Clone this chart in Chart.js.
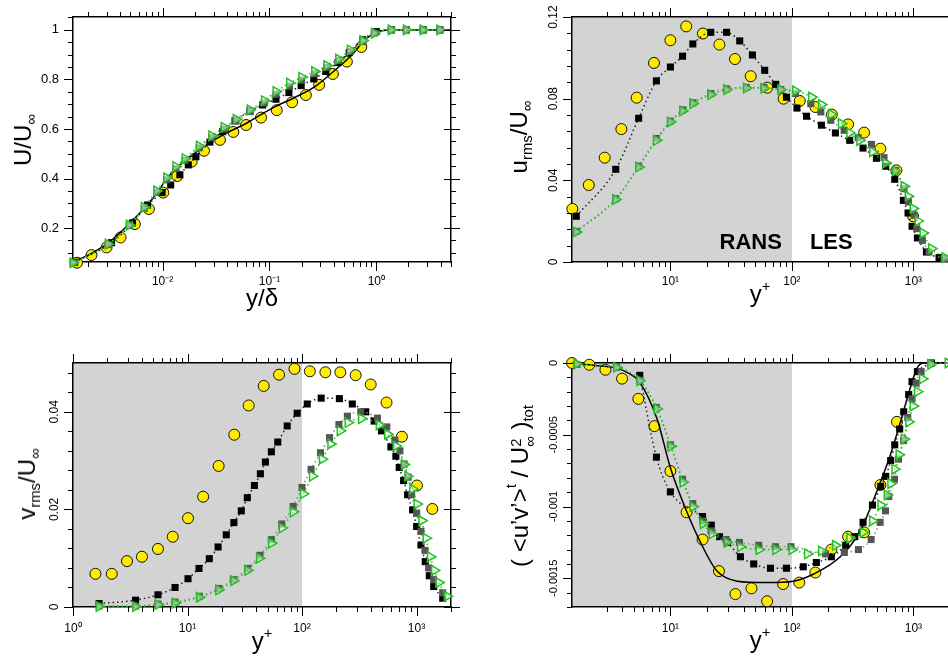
<!DOCTYPE html>
<html>
<head>
<meta charset="utf-8">
<title>Boundary layer profiles</title>
<script src="https://cdn.jsdelivr.net/npm/chart.js@4.4.1/dist/chart.umd.min.js"></script>
<style>
  html, body { margin: 0; padding: 0; background: #fff; }
  body { position: relative; width: 948px; height: 660px; overflow: hidden; }
  canvas { position: absolute; }
  .t { position: absolute; font: 24px "Liberation Sans", Arial, sans-serif; line-height: 1; white-space: nowrap; transform: translate(-50%, -50%); color: #000; }
  .t.r { transform: translate(-50%, -50%) rotate(-90deg); }
  .t sub, .t sup { font-size: 62%; line-height: 0; }
  .t sub { vertical-align: -0.35em; }
  .t sup { vertical-align: 0.75em; }
  .stk { display: inline-block; font-size: 62%; line-height: 0.95; vertical-align: -0.45em; }
  .stk span { display: block; }
</style>
</head>
<body>
<canvas id="c1" width="474" height="330" style="left:0;top:0"></canvas>
<canvas id="c2" width="490" height="330" style="left:474px;top:0"></canvas>
<canvas id="c3" width="474" height="330" style="left:0;top:330px"></canvas>
<canvas id="c4" width="490" height="330" style="left:474px;top:330px"></canvas>

<div class="t r" style="left:23px;top:140px">U/U<sub>∞</sub></div>
<div class="t" style="left:262px;top:298px">y/δ</div>
<div class="t r" style="left:519px;top:137px">u<sub>rms</sub>/U<sub>∞</sub></div>
<div class="t" style="left:760px;top:294px">y<sup>+</sup></div>
<div class="t r" style="left:27px;top:484px">v<sub>rms</sub>/U<sub>∞</sub></div>
<div class="t" style="left:262px;top:641px">y<sup>+</sup></div>
<div class="t r" style="left:522px;top:486px">( &lt;u’v’&gt;<sup>t</sup> / U<span class="stk"><span>2</span><span>∞</span></span> )<sub>tot</sub></div>
<div class="t" style="left:760px;top:640px">y<sup>+</sup></div>

<script>
// ---------- axis ticks ----------
const P1_X_MAJOR = [0.01, 0.1, 1];
const P1_X_LABELS = ["10⁻²", "10⁻¹", "10⁰"];
const P1_Y_MAJOR = [0.2, 0.4, 0.6, 0.8, 1];
const P1_Y_LABELS = ["0.2", "0.4", "0.6", "0.8", "1"];

const YP_MAJOR = [10, 100, 1000];
const YP_LABELS = ["10¹", "10²", "10³"];
const P3_X_MAJOR = [1, 10, 100, 1000];
const P3_X_LABELS = ["10⁰", "10¹", "10²", "10³"];

const P2_Y_MAJOR = [0, 0.04, 0.08, 0.12];
const P2_Y_LABELS = ["0", "0.04", "0.08", "0.12"];
const P3_Y_MAJOR = [0, 0.02, 0.04];
const P3_Y_LABELS = ["0", "0.02", "0.04"];
const P4_Y_MAJOR = [0, -0.0005, -0.001, -0.0015];
const P4_Y_LABELS = ["0", "-0.0005", "-0.001", "-0.0015"];

const RANS_LIMIT = 100;

// ---------- panel 1 : U/Uinf vs y/delta ----------
const P1_YEL_X = [0.00158, 0.00216, 0.00299, 0.00404, 0.0055, 0.00744, 0.01014, 0.0137, 0.0187, 0.0244, 0.0344, 0.0459, 0.0604, 0.0834, 0.117, 0.163, 0.219, 0.292, 0.392, 0.53, 0.723];
const P1_YEL_Y = [0.06, 0.091, 0.122, 0.162, 0.216, 0.277, 0.343, 0.41, 0.468, 0.512, 0.556, 0.588, 0.616, 0.646, 0.676, 0.708, 0.737, 0.778, 0.822, 0.872, 0.931];
const P1_BLK_X = [0.0015, 0.00333, 0.00523, 0.00723, 0.0099, 0.0119, 0.0145, 0.0174, 0.0205, 0.0277, 0.0365, 0.0476, 0.0658, 0.0865, 0.115, 0.152, 0.198, 0.26, 0.337, 0.437, 0.557, 0.748, 1.0, 1.38, 1.91, 2.74, 3.93];
const P1_BLK_Y = [0.062, 0.141, 0.221, 0.293, 0.343, 0.374, 0.415, 0.455, 0.488, 0.547, 0.589, 0.633, 0.673, 0.697, 0.72, 0.747, 0.775, 0.802, 0.832, 0.868, 0.908, 0.96, 0.993, 1, 1, 1, 1];
const P1_GRN_X = [0.00145, 0.00309, 0.00487, 0.00673, 0.0088, 0.0109, 0.0133, 0.0162, 0.022, 0.0288, 0.0376, 0.0487, 0.0658, 0.0895, 0.115, 0.154, 0.2, 0.264, 0.344, 0.443, 0.57, 0.748, 0.957, 1.38, 1.91, 2.74, 3.93];
const P1_GRN_Y = [0.06, 0.135, 0.212, 0.284, 0.35, 0.403, 0.448, 0.48, 0.531, 0.572, 0.607, 0.639, 0.677, 0.714, 0.751, 0.785, 0.809, 0.832, 0.856, 0.882, 0.919, 0.957, 0.987, 1, 1, 1, 1];
const P1_GRY_Y = [0.06, 0.133, 0.21, 0.28, 0.345, 0.395, 0.44, 0.473, 0.524, 0.565, 0.6, 0.632, 0.67, 0.705, 0.74, 0.772, 0.797, 0.823, 0.848, 0.876, 0.913, 0.953, 0.987, 1, 1, 1, 1];
const P1_SOL_X = [0.00145, 0.00214, 0.00307, 0.00425, 0.00587, 0.00811, 0.01045, 0.0125, 0.0173, 0.0256, 0.0394, 0.0608, 0.0871, 0.113, 0.174, 0.267, 0.412, 0.59, 0.787, 0.977, 1.3, 5];
const P1_SOL_Y = [0.063, 0.097, 0.138, 0.192, 0.253, 0.32, 0.387, 0.428, 0.482, 0.535, 0.583, 0.623, 0.663, 0.69, 0.728, 0.771, 0.838, 0.899, 0.96, 0.989, 1, 1];

// ---------- panel 2 : u_rms ----------
const P2_YEL_X = [1.56, 2.13, 2.88, 3.95, 5.28, 7.33, 10, 13.5, 18.5, 25.3, 34, 45.8, 62.8, 85.5, 116, 156, 213, 290, 393, 535, 724, 993];
const P2_YEL_Y = [0.026, 0.0377, 0.0511, 0.0651, 0.0805, 0.0975, 0.1086, 0.1154, 0.1119, 0.1065, 0.0994, 0.091, 0.0854, 0.08, 0.0789, 0.0759, 0.0722, 0.0674, 0.0634, 0.0555, 0.0449, 0.0224];
const P2_BLK_X = [1.68, 3.55, 5.48, 7.67, 10, 12.6, 15.3, 21.5, 29, 37.2, 47.3, 59.7, 73.6, 90.2, 110, 132, 175, 228, 299, 385, 496, 592, 702, 827, 903, 975, 1079, 1280, 1625];
const P2_BLK_Y = [0.0224, 0.0454, 0.0704, 0.0887, 0.0955, 0.1008, 0.1068, 0.1125, 0.1125, 0.1083, 0.1014, 0.0939, 0.087, 0.0807, 0.0754, 0.0714, 0.067, 0.0632, 0.0596, 0.0558, 0.0508, 0.0469, 0.0405, 0.0302, 0.024, 0.0175, 0.0118, 0.0049, 0.0022];
const P2_GRN_X = [1.68, 3.55, 5.48, 7.67, 10, 12.6, 15.3, 21.5, 29, 42.2, 58.9, 80.9, 107, 145, 175, 211, 255, 299, 361, 460, 592, 711, 837, 903, 993, 1091, 1200, 1406, 1811];
const P2_GRN_Y = [0.0147, 0.0306, 0.0465, 0.0596, 0.0686, 0.074, 0.0776, 0.082, 0.0844, 0.0852, 0.0851, 0.0844, 0.0838, 0.0808, 0.0771, 0.0723, 0.0678, 0.0632, 0.0596, 0.0539, 0.0485, 0.0446, 0.0371, 0.0322, 0.0262, 0.0201, 0.0142, 0.0066, 0.0022];
const P2_GRY_X = [1.68, 3.55, 5.48, 7.67, 10, 12.6, 15.3, 21.5, 29, 42.2, 58.9, 80.9, 107, 143, 173, 209, 269, 351, 452, 573, 714, 837, 910, 1012, 1065, 1185, 1343, 1787];
const P2_GRY_Y = [0.015, 0.031, 0.047, 0.0605, 0.069, 0.0745, 0.078, 0.0825, 0.0848, 0.0855, 0.0855, 0.0845, 0.0825, 0.0776, 0.0735, 0.0694, 0.0645, 0.0609, 0.0576, 0.0511, 0.0449, 0.0359, 0.0294, 0.0229, 0.0163, 0.0106, 0.0049, 0.0017];

// ---------- panel 3 : v_rms ----------
const P3_YEL_X = [1.57, 2.18, 2.96, 4.0, 5.52, 7.43, 10.1, 13.7, 18.7, 25.6, 34.2, 46.3, 63, 85.9, 117, 160, 216, 294, 398, 547, 745, 1008, 1374];
const P3_YEL_Y = [0.0068, 0.0068, 0.0094, 0.0103, 0.0119, 0.0144, 0.0182, 0.0226, 0.0289, 0.0353, 0.0413, 0.0453, 0.0476, 0.0488, 0.0483, 0.0481, 0.0481, 0.0475, 0.0456, 0.0419, 0.0349, 0.0249, 0.0201];
const P3_BLK_X = [1.69, 3.52, 5.52, 7.78, 10.1, 12.6, 15.5, 18.5, 21.8, 25.4, 29.5, 33.3, 38.4, 43.3, 47.9, 54, 61.4, 74.2, 90.7, 111, 147, 212, 275, 360, 426, 494, 597, 660, 706, 771, 836, 924, 1002, 1093, 1192, 1292, 1412, 1693];
const P3_BLK_Y = [0.0007, 0.0014, 0.0025, 0.004, 0.0058, 0.0079, 0.0099, 0.0123, 0.0148, 0.0173, 0.0197, 0.0224, 0.0249, 0.0273, 0.0297, 0.0318, 0.0338, 0.0371, 0.0397, 0.0416, 0.0428, 0.0427, 0.0416, 0.04, 0.0381, 0.0361, 0.0328, 0.0309, 0.0286, 0.0259, 0.023, 0.0199, 0.0165, 0.0127, 0.0093, 0.0064, 0.0042, 0.0018];
const P3_GRN_X = [1.69, 3.52, 5.52, 7.78, 12.7, 18.7, 25.3, 33.5, 42.4, 54, 67, 83.7, 102.5, 123, 150, 178, 215, 252, 330, 471, 558, 660, 780, 836, 924, 1008, 1109, 1210, 1318, 1430, 1563, 1849];
const P3_GRN_Y = [0.0001, 0.0001, 0.0005, 0.0008, 0.002, 0.0035, 0.0054, 0.0075, 0.01, 0.0131, 0.0162, 0.0195, 0.0232, 0.0268, 0.0303, 0.0334, 0.0361, 0.0378, 0.0386, 0.0373, 0.0354, 0.033, 0.0292, 0.0268, 0.0242, 0.0211, 0.0177, 0.0141, 0.0103, 0.0075, 0.005, 0.0022];
const P3_GRY_X = [1.69, 3.52, 5.52, 7.78, 12.7, 18.7, 25.1, 33.4, 42.9, 54, 66.5, 83.7, 100, 120, 145, 174, 210, 249, 326, 456, 550, 647, 716, 780, 846, 906, 1002, 1093, 1186, 1276, 1412, 1693];
const P3_GRY_Y = [0.0002, 0.0002, 0.0006, 0.001, 0.0022, 0.0038, 0.0056, 0.0079, 0.0106, 0.0138, 0.017, 0.0206, 0.0245, 0.0282, 0.0316, 0.0347, 0.0374, 0.0391, 0.04, 0.0387, 0.0369, 0.0342, 0.032, 0.0293, 0.0266, 0.023, 0.0192, 0.0155, 0.0116, 0.008, 0.0056, 0.0029];

// ---------- panel 4 : total shear stress ----------
const P4_YEL_X = [1.55, 2.15, 2.92, 4.0, 5.45, 7.38, 10, 13.6, 18.4, 25.1, 34.3, 46.5, 62.5, 84.6, 115, 156, 211, 290, 393, 535, 732];
const P4_YEL_Y = [0, -0.000012, -0.000047, -0.000109, -0.00025, -0.00044, -0.000753, -0.00104, -0.00123, -0.00145, -0.00161, -0.00157, -0.00166, -0.00154, -0.00153, -0.00146, -0.0013, -0.00121, -0.00118, -0.00085, -0.00041];
const P4_BLK_X = [5.6, 7.67, 10, 18.4, 21.7, 25.4, 29.4, 37.7, 48.5, 66.6, 90.2, 124, 159, 211, 277, 329, 385, 460, 538, 592, 650, 702, 771, 832, 914, 973, 1079, 1406];
const P4_BLK_Y = [-0.000086, -0.000656, -0.000898, -0.00107, -0.00113, -0.00121, -0.00125, -0.00135, -0.0014, -0.00143, -0.00143, -0.00142, -0.00139, -0.00135, -0.00127, -0.00121, -0.00111, -0.00099, -0.00086, -0.00079, -0.00068, -0.00057, -0.00046, -0.00034, -0.00022, -0.00013, -0.00006, 0];
const P4_GRN_X = [1.7, 3.6, 5.6, 7.76, 10.1, 12.7, 15.3, 18.6, 22, 29.2, 37.7, 53.6, 73.6, 100, 134, 175, 228, 299, 385, 460, 538, 607, 650, 702, 760, 837, 914, 993, 1079, 1186, 1387, 1927];
const P4_GRN_Y = [-0.000007, -0.00003, -0.000123, -0.00032, -0.00058, -0.00083, -0.001, -0.00112, -0.00119, -0.00125, -0.00128, -0.0013, -0.0013, -0.0013, -0.00133, -0.00131, -0.00127, -0.00122, -0.00118, -0.0011, -0.00099, -0.00092, -0.00084, -0.00074, -0.00064, -0.00053, -0.00041, -0.0003, -0.0002, -0.00011, -0.00001, 0];
const P4_GRY_X = [1.7, 3.6, 5.6, 7.67, 10, 12.6, 15.3, 18.5, 21.6, 28.7, 37, 53.3, 73.1, 98.4, 189, 270, 353, 449, 532, 589, 627, 698, 753, 830, 898, 975, 1052, 1157, 1380];
const P4_GRY_Y = [-0.00001, -0.00003, -0.00012, -0.00031, -0.00057, -0.00081, -0.00098, -0.0011, -0.00117, -0.00123, -0.00125, -0.00127, -0.00128, -0.00128, -0.00133, -0.00132, -0.0013, -0.00123, -0.00111, -0.00103, -0.00093, -0.00081, -0.00067, -0.00054, -0.00038, -0.00025, -0.00014, -0.00006, 0];
const P4_SOL_X = [1.55, 2, 3, 3.63, 4.5, 5.52, 7.77, 10, 13.7, 17.7, 24.2, 35.5, 62.4, 103, 151, 250, 366, 502, 647, 782, 944, 1072, 1217, 2000];
const P4_SOL_Y = [0, -0.00001, -0.000025, -0.000035, -0.00007, -0.000128, -0.00039, -0.00073, -0.00104, -0.00125, -0.00145, -0.00152, -0.00153, -0.00152, -0.00147, -0.00135, -0.00117, -0.00089, -0.00064, -0.00041, -0.00017, -0.000035, 0, 0];

// ---------- styles ----------
const YELLOW = "#ffea00";
const GREEN = "#1fc21f";
const GRAY = "#555555";
const TICK = 9;
const MINOR = 5;
const FONT = '"Liberation Sans", Arial, sans-serif';

Chart.defaults.font.family = FONT;
Chart.defaults.color = "#000";

const pts = (xs, ys) => xs.map((x, i) => ({ x, y: ys[i] }));

const circles = (xs, ys) => ({
  data: pts(xs, ys), showLine: false, clip: false,
  pointStyle: "circle", pointRadius: 5.5,
  pointBackgroundColor: YELLOW, pointBorderColor: "#111", pointBorderWidth: 1,
});
const squares = (xs, ys, fill, line) => ({
  data: pts(xs, ys), showLine: true, clip: false,
  borderColor: line, borderWidth: 1.5, borderDash: [1.5, 3],
  cubicInterpolationMode: "monotone",
  pointStyle: "rect", pointRadius: 5,
  pointBackgroundColor: fill, pointBorderColor: fill, pointBorderWidth: 0,
});
const triangles = (xs, ys) => ({
  data: pts(xs, ys), showLine: true, clip: false,
  borderColor: GREEN, borderWidth: 1.5, borderDash: [1.5, 3],
  cubicInterpolationMode: "monotone",
  pointStyle: "triangle", pointRotation: 90, pointRadius: 5.5,
  pointBackgroundColor: "rgba(255,255,255,0.5)", pointBorderColor: GREEN, pointBorderWidth: 1.5,
});
const solid = (xs, ys) => ({
  data: pts(xs, ys), showLine: true, clip: false,
  borderColor: "#000", borderWidth: 1.5,
  cubicInterpolationMode: "monotone", pointRadius: 0,
});

// keep only 1..9 x 10^n ticks on log axes
const wholeSignificands = (axis) => {
  axis.ticks = axis.ticks.filter((t) => {
    const m = t.value / Math.pow(10, Math.floor(Math.log10(t.value) + 1e-9));
    return Math.abs(m - Math.round(m)) < 1e-6;
  });
};

function makePanel(id, p) {
  const cv = document.getElementById(id);
  const W = cv.width, H = cv.height;
  const near = (a, b) => Math.abs(a - b) <= Math.max(Math.abs(b), 1e-6) * 1e-6;
  const isXMajor = (v) => p.xMajor.some((m) => near(v, m));
  const isYMajor = (v) => p.yMajor.some((m) => Math.abs(v - m) < 1e-9);
  const xLabel = (v) => { const i = p.xMajor.findIndex((m) => near(v, m)); return i < 0 ? "" : p.xLabels[i]; };
  const yLabel = (v) => { const i = p.yMajor.findIndex((m) => Math.abs(v - m) < 1e-9); return i < 0 ? "" : p.yLabels[i]; };

  // tick marks are drawn by the overlay; the library only keeps room for them
  const grid = { drawOnChartArea: false, drawTicks: true, tickLength: TICK, tickColor: "rgba(0,0,0,0)" };
  const border = { display: true, color: "#000", width: 1.5 };
  const xBase = { type: "logarithmic", min: p.xMin, max: p.xMax, afterBuildTicks: wholeSignificands, border, grid };
  const yBase = { type: "linear", min: p.yMin, max: p.yMax, border, grid };
  const yTicks = { stepSize: p.yStep, includeBounds: false, maxTicksLimit: 1000, autoSkip: false };

  const overlay = {
    id: "overlay",
    beforeDraw(chart) {
      if (!p.shade) return;
      const a = chart.chartArea, c = chart.ctx;
      const xr = chart.scales.x.getPixelForValue(RANS_LIMIT);
      c.save();
      c.fillStyle = "#d3d3d3";
      c.fillRect(a.left, a.top, xr - a.left, a.bottom - a.top);
      c.restore();
    },
    beforeDatasetsDraw(chart) {
      if (!p.zones) return;
      const a = chart.chartArea, c = chart.ctx;
      const xr = chart.scales.x.getPixelForValue(RANS_LIMIT);
      c.save();
      c.fillStyle = "#000";
      c.font = "bold 22px " + FONT;
      c.textBaseline = "alphabetic";
      c.textAlign = "right";
      c.fillText(p.zones[0], xr - 10, a.bottom - 13);
      c.textAlign = "left";
      c.fillText(p.zones[1], xr + 18, a.bottom - 13);
      c.restore();
    },
    afterDraw(chart) {
      const a = chart.chartArea, c = chart.ctx;
      // tick marks on all four sides
      c.save();
      c.strokeStyle = "#000";
      c.lineWidth = 1;
      const sides = [["x", "bottom", isXMajor], ["x2", "top", isXMajor], ["y", "left", isYMajor], ["y2", "right", isYMajor]];
      sides.forEach(([sid, side, isMajor]) => {
        const s = chart.scales[sid];
        s.ticks.forEach((t) => {
          const major = isMajor(t.value);
          const len = major ? TICK : MINOR;
          const q = Math.round(s.getPixelForValue(t.value)) + 0.5;
          c.beginPath();
          if (side === "bottom") { c.moveTo(q, a.bottom); c.lineTo(q, a.bottom + len); }
          else if (side === "top") { c.moveTo(q, a.top); c.lineTo(q, a.top - len); }
          else if (side === "left") { c.moveTo(a.left, q); c.lineTo(a.left - len, q); }
          else { c.moveTo(a.right - (major ? p.rightIn : 0), q); c.lineTo(a.right + len, q); }
          c.stroke();
        });
      });
      c.restore();

      if (p.flatY) return;
      const s = chart.scales.y;
      c.save();
      c.fillStyle = "#000";
      c.font = p.yFont + "px " + FONT;
      c.textAlign = "center";
      c.textBaseline = "alphabetic";
      p.yMajor.forEach((v, i) => {
        c.save();
        c.translate(s.right - 15, s.getPixelForValue(v));
        c.rotate(-Math.PI / 2);
        c.fillText(p.yLabels[i], 0, 0);
        c.restore();
      });
      c.restore();
    },
  };

  return new Chart(cv, {
    type: "scatter",
    data: { datasets: p.datasets },
    options: {
      responsive: false,
      animation: false,
      events: [],
      layout: { padding: 0 },
      plugins: { legend: { display: false }, tooltip: { enabled: false } },
      scales: {
        x: {
          ...xBase, position: "bottom",
          ticks: { autoSkip: false, maxRotation: 0, minRotation: 0, padding: p.xPad, font: { size: 12 }, callback: xLabel },
          afterFit: (s) => { s.height = H - p.box.b; },
        },
        x2: {
          ...xBase, position: "top",
          ticks: { display: false, autoSkip: false },
          afterFit: (s) => { s.height = p.box.t; },
        },
        y: {
          ...yBase, position: "left",
          ticks: { ...yTicks, display: !!p.flatY, padding: 5, font: { size: 13 }, callback: yLabel },
          afterFit: (s) => { s.width = p.box.l; },
        },
        y2: {
          ...yBase, position: "right",
          ticks: { ...yTicks, display: false },
          afterFit: (s) => { s.width = W - p.box.r; },
        },
      },
    },
    plugins: [overlay],
  });
}

makePanel("c1", {
  box: { l: 73, t: 17, r: 451, b: 262 }, rightIn: 7,
  xMin: 0.00145, xMax: 5, xMajor: P1_X_MAJOR, xLabels: P1_X_LABELS, xPad: 3,
  yMin: 0.063, yMax: 1.052, yStep: 0.05, yMajor: P1_Y_MAJOR, yLabels: P1_Y_LABELS, flatY: true,
  datasets: [
    triangles(P1_GRN_X, P1_GRN_Y),
    squares(P1_GRN_X, P1_GRY_Y, GRAY, "#8a8a8a"),
    squares(P1_BLK_X, P1_BLK_Y, "#000", "#222"),
    solid(P1_SOL_X, P1_SOL_Y),
    circles(P1_YEL_X, P1_YEL_Y),
  ],
});

makePanel("c2", {
  box: { l: 98, t: 17, r: 476, b: 262 }, rightIn: 0,
  xMin: 1.55, xMax: 2000, xMajor: YP_MAJOR, xLabels: YP_LABELS, xPad: 3,
  yMin: 0, yMax: 0.12, yStep: 0.008, yMajor: P2_Y_MAJOR, yLabels: P2_Y_LABELS, yFont: 12,
  shade: true, zones: ["RANS", "LES"],
  datasets: [
    triangles(P2_GRN_X, P2_GRN_Y),
    squares(P2_GRY_X, P2_GRY_Y, GRAY, "#8a8a8a"),
    squares(P2_BLK_X, P2_BLK_Y, "#000", "#222"),
    circles(P2_YEL_X, P2_YEL_Y),
  ],
});

makePanel("c3", {
  box: { l: 73, t: 33, r: 451, b: 277 }, rightIn: 7,
  xMin: 1, xMax: 2000, xMajor: P3_X_MAJOR, xLabels: P3_X_LABELS, xPad: 5,
  yMin: 0, yMax: 0.05, yStep: 0.004, yMajor: P3_Y_MAJOR, yLabels: P3_Y_LABELS, yFont: 12,
  shade: true,
  datasets: [
    triangles(P3_GRN_X, P3_GRN_Y),
    squares(P3_GRY_X, P3_GRY_Y, GRAY, "#8a8a8a"),
    squares(P3_BLK_X, P3_BLK_Y, "#000", "#222"),
    circles(P3_YEL_X, P3_YEL_Y),
  ],
});

makePanel("c4", {
  box: { l: 98, t: 33, r: 476, b: 277 }, rightIn: 0,
  xMin: 1.55, xMax: 2000, xMajor: YP_MAJOR, xLabels: YP_LABELS, xPad: 5,
  yMin: -0.0017, yMax: 0, yStep: 0.0001, yMajor: P4_Y_MAJOR, yLabels: P4_Y_LABELS, yFont: 11,
  shade: true,
  datasets: [
    triangles(P4_GRN_X, P4_GRN_Y),
    squares(P4_GRY_X, P4_GRY_Y, GRAY, "#8a8a8a"),
    squares(P4_BLK_X, P4_BLK_Y, "#000", "#222"),
    solid(P4_SOL_X, P4_SOL_Y),
    circles(P4_YEL_X, P4_YEL_Y),
  ],
});
</script>
</body>
</html>
